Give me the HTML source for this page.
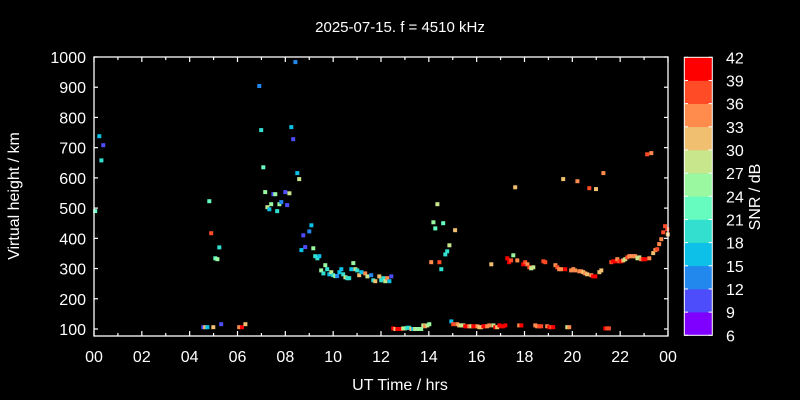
<!DOCTYPE html>
<html><head><meta charset="utf-8"><style>
html,body{margin:0;padding:0;background:#000;}
svg{display:block;font-family:"Liberation Sans",sans-serif;}
</style></head><body>
<svg id="chart" width="800" height="400" viewBox="0 0 800 400">
<rect x="0" y="0" width="800" height="400" fill="#000"/>
<text x="400" y="32" fill="#fff" font-size="15" text-anchor="middle">2025-07-15. f = 4510 kHz</text>
<g id="marks"></g>
<g id="axes"></g>
<g id="cbar"></g>
<text x="400" y="390" fill="#fff" font-size="16" text-anchor="middle">UT Time / hrs</text>
<text transform="translate(19,196) rotate(-90)" fill="#fff" font-size="16" text-anchor="middle">Virtual height / km</text>
<text transform="translate(760,197) rotate(-90)" fill="#fff" font-size="16" text-anchor="middle">SNR / dB</text>
</svg>
<script>
const hours=[0.22,0.39,0.31,0.05,4.82,4.9,5.24,5.07,5.16,4.57,4.65,4.74,4.99,5.32,6.07,6.19,6.33,
8.42,6.91,6.99,8.25,8.33,7.08,8.5,8.58,7.16,7.5,7.58,8.0,8.17,7.25,7.41,7.33,7.75,7.83,7.66,8.08,
9.09,9.0,8.75,8.83,8.67,9.17,9.25,9.34,9.42,9.67,9.5,9.59,9.75,9.84,9.92,10.0,10.09,10.17,10.26,10.34,10.42,10.51,10.59,10.67,10.84,10.76,10.93,11.01,11.09,11.18,11.34,11.43,11.59,11.68,11.76,11.93,
12.01,12.1,12.18,12.26,12.35,12.43,
12.51,12.6,12.68,12.76,12.85,12.93,13.01,13.1,13.18,13.27,13.35,13.43,13.52,13.6,13.68,13.77,13.85,13.94,14.02,
14.36,14.19,14.6,14.27,15.1,14.86,14.77,14.69,14.1,14.44,14.52,14.94,
15.02,15.19,15.27,15.36,15.44,15.52,15.61,15.69,15.78,15.86,15.94,16.03,16.11,16.19,16.28,16.36,16.44,16.53,16.7,16.78,16.86,16.95,17.03,17.11,17.2,17.78,17.87,18.45,18.53,18.62,18.7,18.95,19.04,19.12,19.2,19.79,19.87,21.38,21.46,21.53,
16.61,17.61,17.28,17.36,17.44,17.53,17.7,17.95,18.03,18.12,18.2,18.28,18.37,18.79,18.87,19.29,19.37,19.45,19.53,19.7,19.95,20.04,20.12,20.29,20.37,20.46,20.54,20.62,20.79,20.87,20.96,21.13,21.21,
19.62,20.21,20.71,20.99,21.3,23.13,23.3,
21.63,21.71,21.8,21.88,21.96,22.05,22.13,22.21,22.3,22.38,22.46,22.55,22.63,22.72,22.8,22.88,22.97,23.05,23.22,23.38,23.47,23.55,23.63,23.72,23.8,23.88,23.97,23.99];
const heights=[738,708,658,490,523,417,370,334,331,106,106,106,106,116,106,106,116,
983,904,758,768,728,635,616,596,553,546,546,553,549,503,513,496,513,520,490,510,
443,423,410,371,361,367,341,334,341,311,294,284,298,281,288,278,275,275,288,298,281,271,268,268,318,298,298,294,278,288,284,274,278,261,258,274,
261,268,258,268,258,274,
102,100,100,100,100,102,102,104,104,100,100,100,100,100,100,112,109,112,116,
513,453,450,433,427,377,357,347,321,321,298,125,
116,116,112,112,112,109,109,109,109,109,109,109,106,106,109,109,109,112,112,106,106,112,109,109,112,112,112,112,109,109,109,109,106,106,106,106,106,102,102,102,
314,569,334,321,327,344,327,314,321,314,304,301,304,324,321,311,304,298,298,298,294,298,294,291,291,288,284,281,278,274,274,288,294,
596,589,566,563,616,678,682,
321,324,324,331,324,324,327,331,337,341,341,341,341,334,337,331,331,331,334,351,361,364,381,397,420,440,430,413];
const snr=[16,10,20,23,23,38,20,22,25,10,32,16,32,10,34,40,32,
13,13,20,16,10,23,16,28,25,10,25,10,28,28,25,17,26,13,20,10,
16,13,10,10,16,25,20,20,17,25,25,20,19,17,28,19,26,13,16,16,19,28,20,20,25,16,28,19,32,16,34,28,13,20,31,31,
19,19,28,34,16,10,
40,31,40,40,40,28,25,20,20,31,16,28,25,25,25,28,34,28,25,
28,25,22,22,31,28,20,20,34,37,20,16,
37,34,31,28,28,40,40,34,28,40,40,34,31,31,40,40,34,34,28,40,31,40,40,40,40,34,40,34,34,37,37,34,40,37,40,28,34,40,37,37,
31,31,40,40,37,25,34,40,37,33,37,28,28,38,37,35,37,35,35,40,34,35,34,35,35,31,33,31,33,40,40,30,30,
31,34,37,31,34,37,35,
37,40,40,35,37,40,31,28,37,34,34,34,34,28,28,33,40,40,35,31,33,37,35,35,37,37,37,31];
const yTicks=[100,200,300,400,500,600,700,800,900,1000];
const xTickLabels=["00","02","04","06","08","10","12","14","16","18","20","22","00"];
const cbTicks=[6,9,12,15,18,21,24,27,30,33,36,39,42];
const cbColors=["#8000ff","#4d4dfc","#2288ee","#0cc0e8","#33e0d0","#66fcc0","#99f8a0","#c8e68c","#f0c070","#ff8c4c","#ff4b26","#ff0000"];

const NS="http://www.w3.org/2000/svg";
const X0=94,X1=668,YT=57,YB=336;
const xs=h=>X0+h/24*(X1-X0);
const ys=k=>329-(k-100)*(272/900);
const cy=v=>335.3-(v-6)/36*(335.3-57.3);
const col=v=>cbColors[Math.max(0,Math.min(11,Math.floor((v-6)/3)))];
function mk(tag,attrs,parent){const e=document.createElementNS(NS,tag);for(const k in attrs)e.setAttribute(k,attrs[k]);parent.appendChild(e);return e;}

const marks=document.getElementById('marks');
for(let i=0;i<hours.length;i++){
  const r=mk('rect',{x:(xs(hours[i])-2).toFixed(1),y:(ys(heights[i])-2).toFixed(1),width:4,height:4,fill:col(snr[i])},marks);
  
  
}
const axes=document.getElementById('axes');
const frame=mk('rect',{x:X0,y:YT,width:X1-X0,height:YB-YT,fill:'none',stroke:'#fff','stroke-width':1.3},axes);


for(let h=0;h<=24;h++){
  const x=xs(h),len=(h%2===0)?5:3;
  mk('line',{x1:x,y1:YB,x2:x,y2:YB-len,stroke:'#fff','stroke-width':1.2},axes);
  mk('line',{x1:x,y1:YT,x2:x,y2:YT+len,stroke:'#fff','stroke-width':1.2},axes);
}
xTickLabels.forEach((t,i)=>{
  const e=mk('text',{x:xs(i*2),y:362,fill:'#fff','font-size':16,'text-anchor':'middle'},axes);
  e.textContent=t;
  
  
});
yTicks.forEach(v=>{
  const y=ys(v);
  mk('line',{x1:X0,y1:y,x2:X0+4,y2:y,stroke:'#fff','stroke-width':1.2},axes);
  mk('line',{x1:X1,y1:y,x2:X1-4,y2:y,stroke:'#fff','stroke-width':1.2},axes);
  const e=mk('text',{x:86,y:y+6,fill:'#fff','font-size':16,'text-anchor':'end'},axes);
  e.textContent=v;
  
  
});
const cb=document.getElementById('cbar');
cbColors.forEach((c,i)=>{
  const r=mk('rect',{x:684.3,y:cy(6+(i+1)*3),width:28,height:cy(6+i*3)-cy(6+(i+1)*3)+0.3,fill:c},cb);
  
  
});
mk('rect',{x:684.3,y:57.3,width:28,height:278,fill:'none',stroke:'#fff','stroke-width':1},cb);
cbTicks.forEach(v=>{
  const y=cy(v);
  mk('line',{x1:684.3,y1:y,x2:688,y2:y,stroke:'#fff','stroke-width':1},cb);
  mk('line',{x1:712.3,y1:y,x2:708.6,y2:y,stroke:'#fff','stroke-width':1},cb);
  const e=mk('text',{x:726,y:y+6,fill:'#fff','font-size':16},cb);
  e.textContent=v;
  
  
});
</script>
</body></html>
